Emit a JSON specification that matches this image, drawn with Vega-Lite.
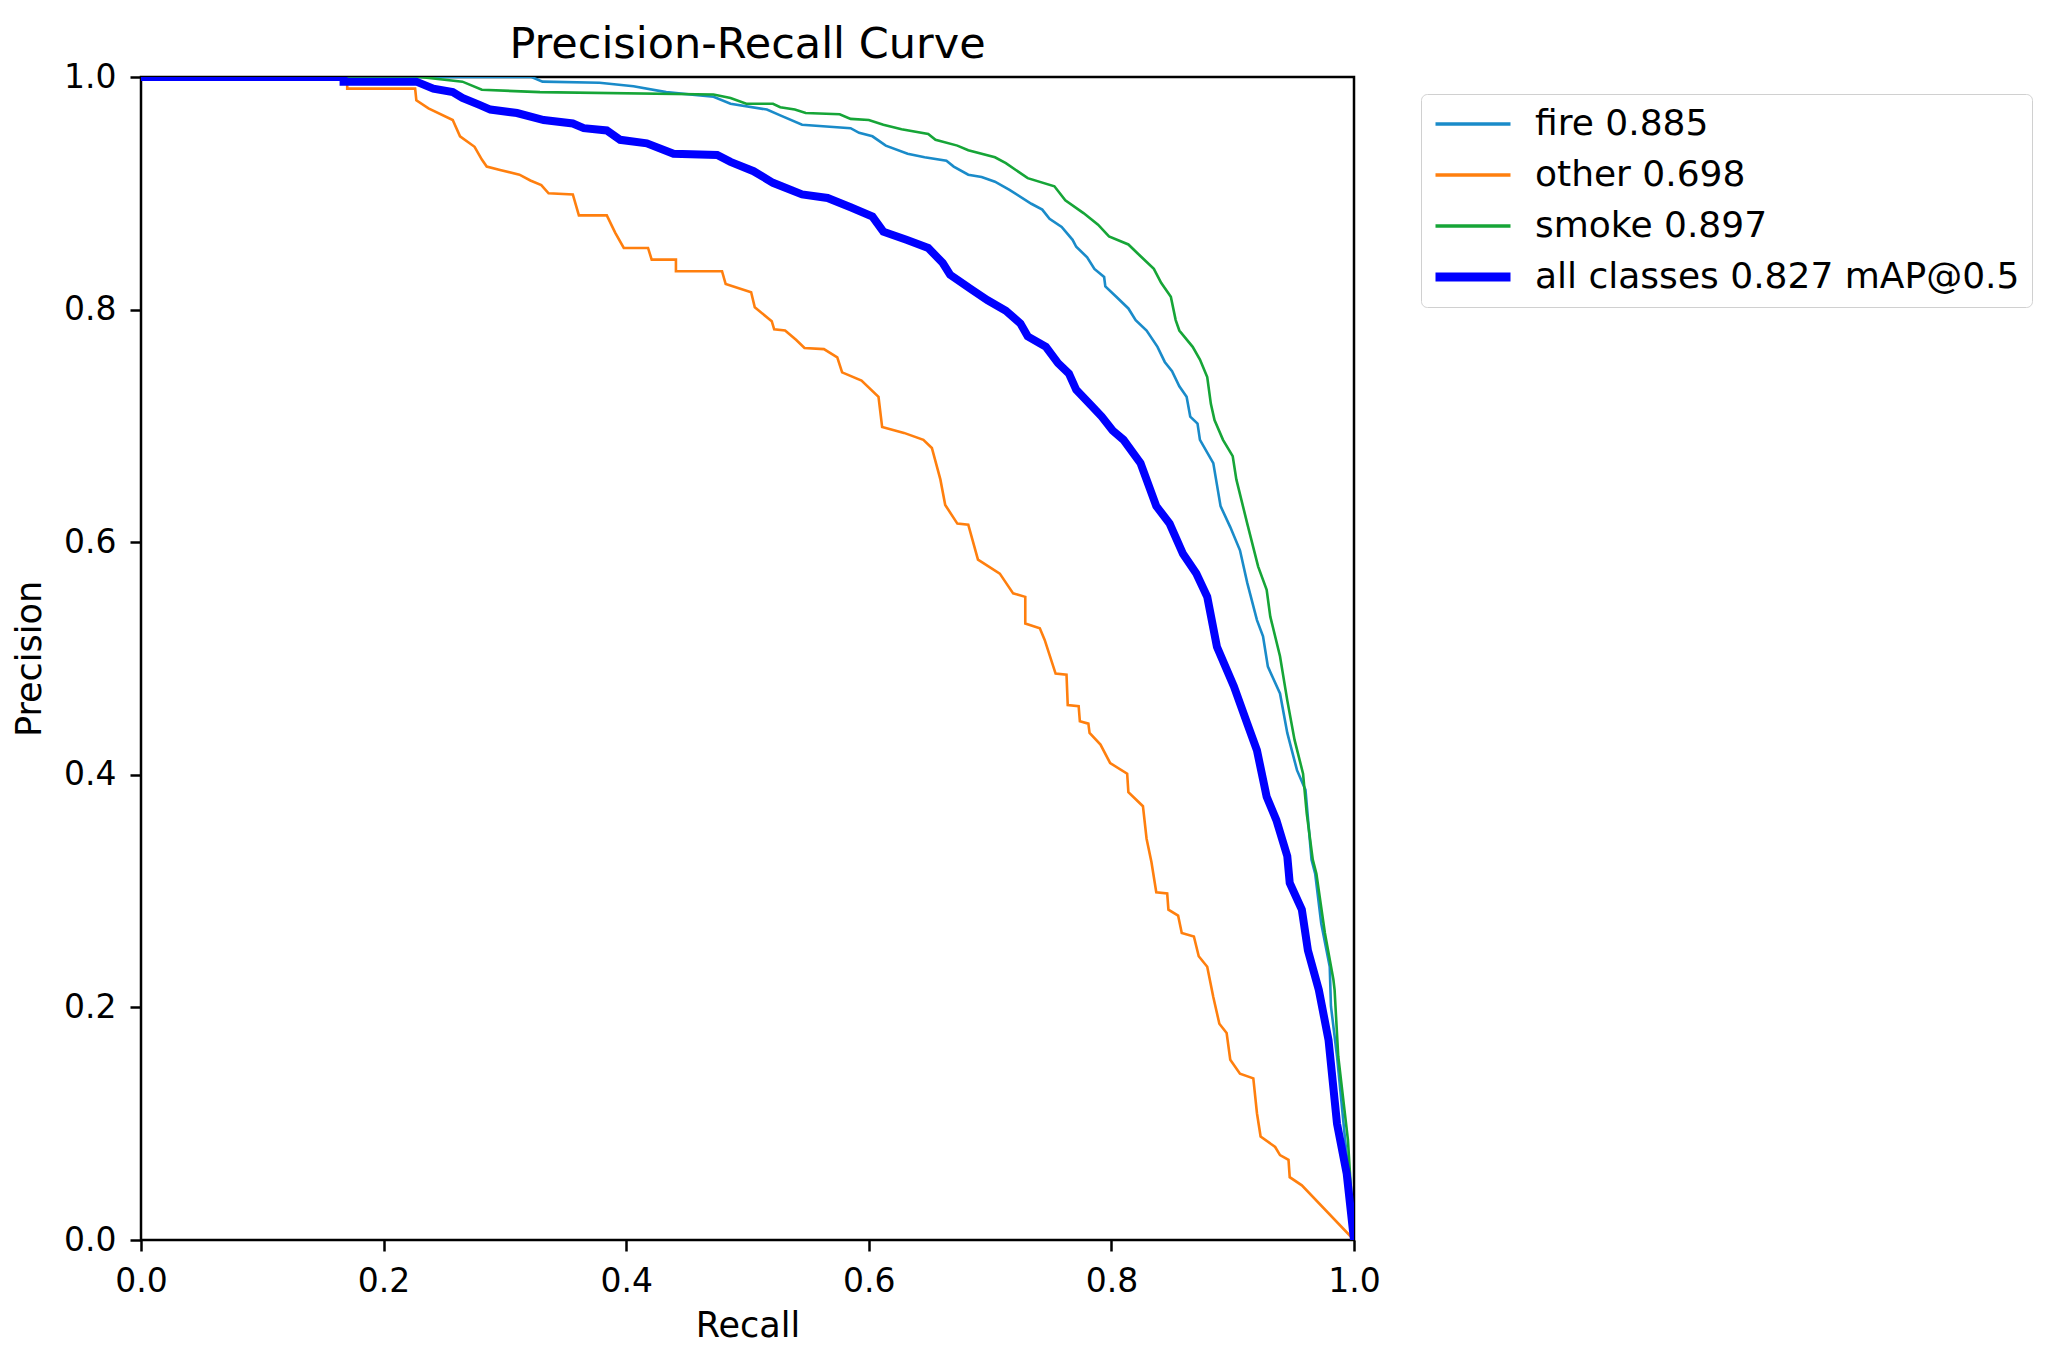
{
  "$schema": "https://vega.github.io/schema/vega-lite/v6.json",
  "autosize": "none",
  "width": 1213,
  "height": 1163,
  "padding": {"left": 141, "top": 77, "right": 705, "bottom": 121},
  "background": "white",
  "title": {
    "text": "Precision-Recall Curve",
    "frame": "group",
    "anchor": "middle",
    "offset": -6,
    "fontSize": 43,
    "fontWeight": "normal",
    "font": "DejaVu Sans",
    "color": "black"
  },
  "datasets": {
    "curves": [
      {"series": "fire 0.885", "r": 0, "p": 1.0},
      {"series": "fire 0.885", "r": 0.322, "p": 1.0},
      {"series": "fire 0.885", "r": 0.331, "p": 0.996},
      {"series": "fire 0.885", "r": 0.378, "p": 0.995},
      {"series": "fire 0.885", "r": 0.406, "p": 0.992},
      {"series": "fire 0.885", "r": 0.433, "p": 0.987},
      {"series": "fire 0.885", "r": 0.472, "p": 0.983},
      {"series": "fire 0.885", "r": 0.486, "p": 0.977},
      {"series": "fire 0.885", "r": 0.516, "p": 0.972},
      {"series": "fire 0.885", "r": 0.527, "p": 0.967},
      {"series": "fire 0.885", "r": 0.545, "p": 0.959},
      {"series": "fire 0.885", "r": 0.585, "p": 0.956},
      {"series": "fire 0.885", "r": 0.592, "p": 0.952},
      {"series": "fire 0.885", "r": 0.603, "p": 0.949},
      {"series": "fire 0.885", "r": 0.614, "p": 0.941},
      {"series": "fire 0.885", "r": 0.632, "p": 0.934},
      {"series": "fire 0.885", "r": 0.646, "p": 0.931},
      {"series": "fire 0.885", "r": 0.664, "p": 0.928},
      {"series": "fire 0.885", "r": 0.670, "p": 0.923},
      {"series": "fire 0.885", "r": 0.682, "p": 0.916},
      {"series": "fire 0.885", "r": 0.693, "p": 0.914},
      {"series": "fire 0.885", "r": 0.704, "p": 0.910},
      {"series": "fire 0.885", "r": 0.716, "p": 0.903},
      {"series": "fire 0.885", "r": 0.734, "p": 0.891},
      {"series": "fire 0.885", "r": 0.743, "p": 0.886},
      {"series": "fire 0.885", "r": 0.749, "p": 0.878},
      {"series": "fire 0.885", "r": 0.759, "p": 0.871},
      {"series": "fire 0.885", "r": 0.768, "p": 0.860},
      {"series": "fire 0.885", "r": 0.771, "p": 0.854},
      {"series": "fire 0.885", "r": 0.780, "p": 0.845},
      {"series": "fire 0.885", "r": 0.786, "p": 0.835},
      {"series": "fire 0.885", "r": 0.794, "p": 0.828},
      {"series": "fire 0.885", "r": 0.795, "p": 0.820},
      {"series": "fire 0.885", "r": 0.804, "p": 0.811},
      {"series": "fire 0.885", "r": 0.814, "p": 0.801},
      {"series": "fire 0.885", "r": 0.820, "p": 0.791},
      {"series": "fire 0.885", "r": 0.829, "p": 0.782},
      {"series": "fire 0.885", "r": 0.838, "p": 0.768},
      {"series": "fire 0.885", "r": 0.844, "p": 0.755},
      {"series": "fire 0.885", "r": 0.850, "p": 0.747},
      {"series": "fire 0.885", "r": 0.856, "p": 0.734},
      {"series": "fire 0.885", "r": 0.862, "p": 0.725},
      {"series": "fire 0.885", "r": 0.865, "p": 0.708},
      {"series": "fire 0.885", "r": 0.871, "p": 0.702},
      {"series": "fire 0.885", "r": 0.873, "p": 0.688},
      {"series": "fire 0.885", "r": 0.884, "p": 0.668},
      {"series": "fire 0.885", "r": 0.890, "p": 0.631},
      {"series": "fire 0.885", "r": 0.898, "p": 0.613},
      {"series": "fire 0.885", "r": 0.906, "p": 0.593},
      {"series": "fire 0.885", "r": 0.912, "p": 0.565},
      {"series": "fire 0.885", "r": 0.920, "p": 0.533},
      {"series": "fire 0.885", "r": 0.925, "p": 0.519},
      {"series": "fire 0.885", "r": 0.929, "p": 0.493},
      {"series": "fire 0.885", "r": 0.939, "p": 0.470},
      {"series": "fire 0.885", "r": 0.945, "p": 0.436},
      {"series": "fire 0.885", "r": 0.953, "p": 0.404},
      {"series": "fire 0.885", "r": 0.960, "p": 0.387},
      {"series": "fire 0.885", "r": 0.965, "p": 0.327},
      {"series": "fire 0.885", "r": 0.968, "p": 0.315},
      {"series": "fire 0.885", "r": 0.973, "p": 0.272},
      {"series": "fire 0.885", "r": 0.980, "p": 0.235},
      {"series": "fire 0.885", "r": 0.981, "p": 0.201},
      {"series": "fire 0.885", "r": 0.986, "p": 0.158},
      {"series": "fire 0.885", "r": 0.994, "p": 0.072},
      {"series": "fire 0.885", "r": 1.0, "p": 0.0},

      {"series": "other 0.698", "r": 0, "p": 1.0},
      {"series": "other 0.698", "r": 0.170, "p": 1.0},
      {"series": "other 0.698", "r": 0.170, "p": 0.990},
      {"series": "other 0.698", "r": 0.226, "p": 0.990},
      {"series": "other 0.698", "r": 0.227, "p": 0.980},
      {"series": "other 0.698", "r": 0.237, "p": 0.973},
      {"series": "other 0.698", "r": 0.257, "p": 0.963},
      {"series": "other 0.698", "r": 0.263, "p": 0.949},
      {"series": "other 0.698", "r": 0.275, "p": 0.940},
      {"series": "other 0.698", "r": 0.281, "p": 0.929},
      {"series": "other 0.698", "r": 0.285, "p": 0.923},
      {"series": "other 0.698", "r": 0.296, "p": 0.920},
      {"series": "other 0.698", "r": 0.312, "p": 0.916},
      {"series": "other 0.698", "r": 0.321, "p": 0.911},
      {"series": "other 0.698", "r": 0.330, "p": 0.907},
      {"series": "other 0.698", "r": 0.336, "p": 0.900},
      {"series": "other 0.698", "r": 0.356, "p": 0.899},
      {"series": "other 0.698", "r": 0.361, "p": 0.881},
      {"series": "other 0.698", "r": 0.384, "p": 0.881},
      {"series": "other 0.698", "r": 0.391, "p": 0.866},
      {"series": "other 0.698", "r": 0.398, "p": 0.853},
      {"series": "other 0.698", "r": 0.418, "p": 0.853},
      {"series": "other 0.698", "r": 0.421, "p": 0.843},
      {"series": "other 0.698", "r": 0.441, "p": 0.843},
      {"series": "other 0.698", "r": 0.441, "p": 0.833},
      {"series": "other 0.698", "r": 0.479, "p": 0.833},
      {"series": "other 0.698", "r": 0.482, "p": 0.822},
      {"series": "other 0.698", "r": 0.503, "p": 0.815},
      {"series": "other 0.698", "r": 0.506, "p": 0.802},
      {"series": "other 0.698", "r": 0.520, "p": 0.790},
      {"series": "other 0.698", "r": 0.522, "p": 0.783},
      {"series": "other 0.698", "r": 0.531, "p": 0.782},
      {"series": "other 0.698", "r": 0.540, "p": 0.774},
      {"series": "other 0.698", "r": 0.547, "p": 0.767},
      {"series": "other 0.698", "r": 0.563, "p": 0.766},
      {"series": "other 0.698", "r": 0.574, "p": 0.759},
      {"series": "other 0.698", "r": 0.578, "p": 0.746},
      {"series": "other 0.698", "r": 0.594, "p": 0.739},
      {"series": "other 0.698", "r": 0.608, "p": 0.725},
      {"series": "other 0.698", "r": 0.611, "p": 0.699},
      {"series": "other 0.698", "r": 0.629, "p": 0.694},
      {"series": "other 0.698", "r": 0.645, "p": 0.688},
      {"series": "other 0.698", "r": 0.652, "p": 0.681},
      {"series": "other 0.698", "r": 0.659, "p": 0.654},
      {"series": "other 0.698", "r": 0.663, "p": 0.632},
      {"series": "other 0.698", "r": 0.673, "p": 0.616},
      {"series": "other 0.698", "r": 0.682, "p": 0.615},
      {"series": "other 0.698", "r": 0.690, "p": 0.585},
      {"series": "other 0.698", "r": 0.708, "p": 0.573},
      {"series": "other 0.698", "r": 0.719, "p": 0.556},
      {"series": "other 0.698", "r": 0.729, "p": 0.553},
      {"series": "other 0.698", "r": 0.729, "p": 0.530},
      {"series": "other 0.698", "r": 0.741, "p": 0.526},
      {"series": "other 0.698", "r": 0.745, "p": 0.516},
      {"series": "other 0.698", "r": 0.754, "p": 0.487},
      {"series": "other 0.698", "r": 0.763, "p": 0.486},
      {"series": "other 0.698", "r": 0.764, "p": 0.460},
      {"series": "other 0.698", "r": 0.773, "p": 0.459},
      {"series": "other 0.698", "r": 0.774, "p": 0.446},
      {"series": "other 0.698", "r": 0.781, "p": 0.444},
      {"series": "other 0.698", "r": 0.782, "p": 0.436},
      {"series": "other 0.698", "r": 0.791, "p": 0.426},
      {"series": "other 0.698", "r": 0.799, "p": 0.410},
      {"series": "other 0.698", "r": 0.813, "p": 0.401},
      {"series": "other 0.698", "r": 0.814, "p": 0.385},
      {"series": "other 0.698", "r": 0.826, "p": 0.373},
      {"series": "other 0.698", "r": 0.829, "p": 0.345},
      {"series": "other 0.698", "r": 0.833, "p": 0.325},
      {"series": "other 0.698", "r": 0.837, "p": 0.299},
      {"series": "other 0.698", "r": 0.846, "p": 0.298},
      {"series": "other 0.698", "r": 0.847, "p": 0.284},
      {"series": "other 0.698", "r": 0.855, "p": 0.279},
      {"series": "other 0.698", "r": 0.858, "p": 0.264},
      {"series": "other 0.698", "r": 0.868, "p": 0.261},
      {"series": "other 0.698", "r": 0.872, "p": 0.244},
      {"series": "other 0.698", "r": 0.879, "p": 0.235},
      {"series": "other 0.698", "r": 0.884, "p": 0.209},
      {"series": "other 0.698", "r": 0.889, "p": 0.186},
      {"series": "other 0.698", "r": 0.895, "p": 0.178},
      {"series": "other 0.698", "r": 0.898, "p": 0.155},
      {"series": "other 0.698", "r": 0.906, "p": 0.143},
      {"series": "other 0.698", "r": 0.917, "p": 0.139},
      {"series": "other 0.698", "r": 0.920, "p": 0.109},
      {"series": "other 0.698", "r": 0.923, "p": 0.089},
      {"series": "other 0.698", "r": 0.935, "p": 0.080},
      {"series": "other 0.698", "r": 0.939, "p": 0.073},
      {"series": "other 0.698", "r": 0.946, "p": 0.069},
      {"series": "other 0.698", "r": 0.947, "p": 0.054},
      {"series": "other 0.698", "r": 0.957, "p": 0.047},
      {"series": "other 0.698", "r": 1.0, "p": 0.0},

      {"series": "smoke 0.897", "r": 0, "p": 1.0},
      {"series": "smoke 0.897", "r": 0.230, "p": 1.0},
      {"series": "smoke 0.897", "r": 0.265, "p": 0.996},
      {"series": "smoke 0.897", "r": 0.281, "p": 0.989},
      {"series": "smoke 0.897", "r": 0.329, "p": 0.987},
      {"series": "smoke 0.897", "r": 0.472, "p": 0.985},
      {"series": "smoke 0.897", "r": 0.486, "p": 0.982},
      {"series": "smoke 0.897", "r": 0.499, "p": 0.977},
      {"series": "smoke 0.897", "r": 0.521, "p": 0.977},
      {"series": "smoke 0.897", "r": 0.527, "p": 0.974},
      {"series": "smoke 0.897", "r": 0.539, "p": 0.972},
      {"series": "smoke 0.897", "r": 0.548, "p": 0.969},
      {"series": "smoke 0.897", "r": 0.576, "p": 0.968},
      {"series": "smoke 0.897", "r": 0.585, "p": 0.964},
      {"series": "smoke 0.897", "r": 0.600, "p": 0.963},
      {"series": "smoke 0.897", "r": 0.612, "p": 0.959},
      {"series": "smoke 0.897", "r": 0.627, "p": 0.955},
      {"series": "smoke 0.897", "r": 0.649, "p": 0.951},
      {"series": "smoke 0.897", "r": 0.655, "p": 0.946},
      {"series": "smoke 0.897", "r": 0.673, "p": 0.941},
      {"series": "smoke 0.897", "r": 0.682, "p": 0.937},
      {"series": "smoke 0.897", "r": 0.704, "p": 0.931},
      {"series": "smoke 0.897", "r": 0.713, "p": 0.926},
      {"series": "smoke 0.897", "r": 0.731, "p": 0.913},
      {"series": "smoke 0.897", "r": 0.753, "p": 0.906},
      {"series": "smoke 0.897", "r": 0.762, "p": 0.894},
      {"series": "smoke 0.897", "r": 0.777, "p": 0.883},
      {"series": "smoke 0.897", "r": 0.789, "p": 0.873},
      {"series": "smoke 0.897", "r": 0.798, "p": 0.863},
      {"series": "smoke 0.897", "r": 0.814, "p": 0.856},
      {"series": "smoke 0.897", "r": 0.823, "p": 0.847},
      {"series": "smoke 0.897", "r": 0.835, "p": 0.835},
      {"series": "smoke 0.897", "r": 0.841, "p": 0.823},
      {"series": "smoke 0.897", "r": 0.849, "p": 0.811},
      {"series": "smoke 0.897", "r": 0.853, "p": 0.791},
      {"series": "smoke 0.897", "r": 0.856, "p": 0.782},
      {"series": "smoke 0.897", "r": 0.867, "p": 0.768},
      {"series": "smoke 0.897", "r": 0.873, "p": 0.757},
      {"series": "smoke 0.897", "r": 0.879, "p": 0.742},
      {"series": "smoke 0.897", "r": 0.882, "p": 0.719},
      {"series": "smoke 0.897", "r": 0.885, "p": 0.705},
      {"series": "smoke 0.897", "r": 0.892, "p": 0.688},
      {"series": "smoke 0.897", "r": 0.900, "p": 0.674},
      {"series": "smoke 0.897", "r": 0.903, "p": 0.654},
      {"series": "smoke 0.897", "r": 0.912, "p": 0.616},
      {"series": "smoke 0.897", "r": 0.921, "p": 0.579},
      {"series": "smoke 0.897", "r": 0.928, "p": 0.559},
      {"series": "smoke 0.897", "r": 0.931, "p": 0.536},
      {"series": "smoke 0.897", "r": 0.939, "p": 0.502},
      {"series": "smoke 0.897", "r": 0.945, "p": 0.464},
      {"series": "smoke 0.897", "r": 0.951, "p": 0.430},
      {"series": "smoke 0.897", "r": 0.958, "p": 0.401},
      {"series": "smoke 0.897", "r": 0.961, "p": 0.367},
      {"series": "smoke 0.897", "r": 0.966, "p": 0.327},
      {"series": "smoke 0.897", "r": 0.969, "p": 0.315},
      {"series": "smoke 0.897", "r": 0.976, "p": 0.264},
      {"series": "smoke 0.897", "r": 0.983, "p": 0.224},
      {"series": "smoke 0.897", "r": 0.984, "p": 0.215},
      {"series": "smoke 0.897", "r": 0.987, "p": 0.158},
      {"series": "smoke 0.897", "r": 0.995, "p": 0.086},
      {"series": "smoke 0.897", "r": 1.0, "p": 0.0},

      {"series": "all classes 0.827 mAP@0.5", "r": 0, "p": 1.0},
      {"series": "all classes 0.827 mAP@0.5", "r": 0.167, "p": 1.0},
      {"series": "all classes 0.827 mAP@0.5", "r": 0.167, "p": 0.996},
      {"series": "all classes 0.827 mAP@0.5", "r": 0.227, "p": 0.996},
      {"series": "all classes 0.827 mAP@0.5", "r": 0.241, "p": 0.990},
      {"series": "all classes 0.827 mAP@0.5", "r": 0.257, "p": 0.987},
      {"series": "all classes 0.827 mAP@0.5", "r": 0.265, "p": 0.982},
      {"series": "all classes 0.827 mAP@0.5", "r": 0.279, "p": 0.976},
      {"series": "all classes 0.827 mAP@0.5", "r": 0.288, "p": 0.972},
      {"series": "all classes 0.827 mAP@0.5", "r": 0.310, "p": 0.969},
      {"series": "all classes 0.827 mAP@0.5", "r": 0.332, "p": 0.963},
      {"series": "all classes 0.827 mAP@0.5", "r": 0.356, "p": 0.960},
      {"series": "all classes 0.827 mAP@0.5", "r": 0.365, "p": 0.956},
      {"series": "all classes 0.827 mAP@0.5", "r": 0.384, "p": 0.954},
      {"series": "all classes 0.827 mAP@0.5", "r": 0.395, "p": 0.946},
      {"series": "all classes 0.827 mAP@0.5", "r": 0.417, "p": 0.943},
      {"series": "all classes 0.827 mAP@0.5", "r": 0.439, "p": 0.934},
      {"series": "all classes 0.827 mAP@0.5", "r": 0.475, "p": 0.933},
      {"series": "all classes 0.827 mAP@0.5", "r": 0.486, "p": 0.927},
      {"series": "all classes 0.827 mAP@0.5", "r": 0.505, "p": 0.919},
      {"series": "all classes 0.827 mAP@0.5", "r": 0.521, "p": 0.909},
      {"series": "all classes 0.827 mAP@0.5", "r": 0.545, "p": 0.899},
      {"series": "all classes 0.827 mAP@0.5", "r": 0.566, "p": 0.896},
      {"series": "all classes 0.827 mAP@0.5", "r": 0.585, "p": 0.888},
      {"series": "all classes 0.827 mAP@0.5", "r": 0.603, "p": 0.880},
      {"series": "all classes 0.827 mAP@0.5", "r": 0.612, "p": 0.867},
      {"series": "all classes 0.827 mAP@0.5", "r": 0.631, "p": 0.860},
      {"series": "all classes 0.827 mAP@0.5", "r": 0.649, "p": 0.853},
      {"series": "all classes 0.827 mAP@0.5", "r": 0.661, "p": 0.840},
      {"series": "all classes 0.827 mAP@0.5", "r": 0.667, "p": 0.830},
      {"series": "all classes 0.827 mAP@0.5", "r": 0.685, "p": 0.817},
      {"series": "all classes 0.827 mAP@0.5", "r": 0.698, "p": 0.808},
      {"series": "all classes 0.827 mAP@0.5", "r": 0.713, "p": 0.799},
      {"series": "all classes 0.827 mAP@0.5", "r": 0.725, "p": 0.788},
      {"series": "all classes 0.827 mAP@0.5", "r": 0.731, "p": 0.777},
      {"series": "all classes 0.827 mAP@0.5", "r": 0.746, "p": 0.768},
      {"series": "all classes 0.827 mAP@0.5", "r": 0.756, "p": 0.754},
      {"series": "all classes 0.827 mAP@0.5", "r": 0.765, "p": 0.745},
      {"series": "all classes 0.827 mAP@0.5", "r": 0.771, "p": 0.731},
      {"series": "all classes 0.827 mAP@0.5", "r": 0.783, "p": 0.718},
      {"series": "all classes 0.827 mAP@0.5", "r": 0.792, "p": 0.708},
      {"series": "all classes 0.827 mAP@0.5", "r": 0.801, "p": 0.696},
      {"series": "all classes 0.827 mAP@0.5", "r": 0.810, "p": 0.688},
      {"series": "all classes 0.827 mAP@0.5", "r": 0.824, "p": 0.668},
      {"series": "all classes 0.827 mAP@0.5", "r": 0.837, "p": 0.631},
      {"series": "all classes 0.827 mAP@0.5", "r": 0.848, "p": 0.616},
      {"series": "all classes 0.827 mAP@0.5", "r": 0.859, "p": 0.590},
      {"series": "all classes 0.827 mAP@0.5", "r": 0.870, "p": 0.573},
      {"series": "all classes 0.827 mAP@0.5", "r": 0.879, "p": 0.553},
      {"series": "all classes 0.827 mAP@0.5", "r": 0.887, "p": 0.510},
      {"series": "all classes 0.827 mAP@0.5", "r": 0.901, "p": 0.476},
      {"series": "all classes 0.827 mAP@0.5", "r": 0.912, "p": 0.444},
      {"series": "all classes 0.827 mAP@0.5", "r": 0.920, "p": 0.421},
      {"series": "all classes 0.827 mAP@0.5", "r": 0.928, "p": 0.381},
      {"series": "all classes 0.827 mAP@0.5", "r": 0.936, "p": 0.361},
      {"series": "all classes 0.827 mAP@0.5", "r": 0.945, "p": 0.330},
      {"series": "all classes 0.827 mAP@0.5", "r": 0.947, "p": 0.307},
      {"series": "all classes 0.827 mAP@0.5", "r": 0.957, "p": 0.284},
      {"series": "all classes 0.827 mAP@0.5", "r": 0.962, "p": 0.249},
      {"series": "all classes 0.827 mAP@0.5", "r": 0.971, "p": 0.215},
      {"series": "all classes 0.827 mAP@0.5", "r": 0.979, "p": 0.172},
      {"series": "all classes 0.827 mAP@0.5", "r": 0.986, "p": 0.100},
      {"series": "all classes 0.827 mAP@0.5", "r": 0.994, "p": 0.057},
      {"series": "all classes 0.827 mAP@0.5", "r": 1.0, "p": 0.0}
    ]
  },
  "data": {"name": "curves"},
  "encoding": {
    "x": {
      "field": "r",
      "type": "quantitative",
      "title": "Recall",
      "scale": {"domain": [0, 1], "nice": false, "zero": false},
      "axis": {"values": [0, 0.2, 0.4, 0.6, 0.8, 1.0], "format": ".1f", "titlePadding": 10}
    },
    "y": {
      "field": "p",
      "type": "quantitative",
      "title": "Precision",
      "scale": {"domain": [0, 1], "nice": false, "zero": false},
      "axis": {"values": [0, 0.2, 0.4, 0.6, 0.8, 1.0], "format": ".1f", "titlePadding": 16}
    },
    "color": {
      "field": "series",
      "type": "nominal",
      "scale": {
        "domain": ["fire 0.885", "other 0.698", "smoke 0.897", "all classes 0.827 mAP@0.5"],
        "range": ["#1a8bc9", "#ff7f0e", "#16a537", "#0000ff"]
      },
      "legend": {
        "title": null,
        "orient": "none",
        "legendX": 1280,
        "legendY": 17,
        "symbolType": "stroke",
        "symbolSize": 5625,
        "symbolStrokeWidth": 3,
        "symbolOffset": 22,
        "labelFontSize": 36,
        "labelFont": "DejaVu Sans",
        "labelColor": "black",
        "labelOffset": 44,
        "rowPadding": 15,
        "padding": 12,
        "strokeColor": "#d0d0d0",
        "fillColor": "white",
        "cornerRadius": 6,
        "labelLimit": 800,
        "encode": {
          "symbols": {
            "update": {
              "strokeWidth": {"signal": "datum.value === 'all classes 0.827 mAP@0.5' ? 9 : 3.5"}
            }
          }
        }
      }
    },
    "order": [
      {"field": "r", "sort": "ascending"},
      {"field": "p", "sort": "descending"}
    ]
  },
  "layer": [
    {
      "transform": [{"filter": "datum.series !== 'all classes 0.827 mAP@0.5'"}],
      "mark": {"type": "line", "strokeWidth": 2.6, "clip": true}
    },
    {
      "transform": [{"filter": "datum.series === 'all classes 0.827 mAP@0.5'"}],
      "mark": {"type": "line", "strokeWidth": 8, "clip": true}
    }
  ],
  "config": {
    "font": "DejaVu Sans",
    "view": {"stroke": "black", "strokeWidth": 2.5},
    "axis": {
      "grid": false,
      "domain": false,
      "ticks": true,
      "tickColor": "black",
      "tickWidth": 2.5,
      "tickSize": 11,
      "labelFont": "DejaVu Sans",
      "labelFontSize": 33,
      "labelColor": "black",
      "labelPadding": 14,
      "titleFont": "DejaVu Sans",
      "titleFontSize": 35,
      "titleFontWeight": "normal",
      "titleColor": "black"
    },
    "axisX": {"labelFlush": false},
    "axisY": {"labelFlush": false}
  }
}
